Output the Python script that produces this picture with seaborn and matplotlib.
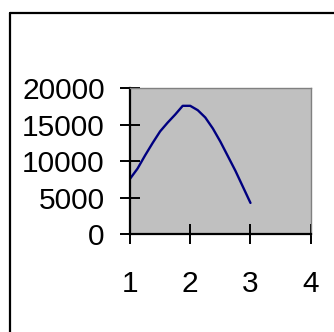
import matplotlib
matplotlib.use("Agg")
import matplotlib.pyplot as plt
import seaborn as sns
import pandas as pd
from matplotlib.lines import Line2D

x_vals = [1.0, 1.125, 1.25, 1.375, 1.5, 1.625, 1.75, 1.875, 2.0, 2.125, 2.25,
          2.375, 2.5, 2.625, 2.75, 2.875, 3.0]
y_vals = [7600, 9000, 10800, 12500, 14100, 15300, 16400, 17600, 17600, 17000,
          16000, 14500, 12700, 10700, 8700, 6500, 4300]
x_ticks = [1, 2, 3, 4]
y_ticks = [0, 5000, 10000, 15000, 20000]

sns.set_style("white")
plt.rcParams['font.family'] = ['Liberation Sans', 'DejaVu Sans']

df = pd.DataFrame({"x": x_vals, "y": y_vals})

fig = plt.figure(figsize=(3.34, 3.32), dpi=100)
ax = fig.add_axes([130/334, 1 - 234.3/332, (310.7-130)/334, (234.3-88.3)/332])
ax.set_facecolor("#C0C0C0")

sns.lineplot(data=df, x="x", y="y", ax=ax, color="#000080", linewidth=1.7)

ax.set_xlim(1, 4)
ax.set_ylim(0, 20000)
ax.set_xticks(x_ticks)
ax.set_yticks(y_ticks)
ax.set_xticklabels([str(t) for t in x_ticks])
ax.set_yticklabels([str(t) for t in y_ticks])
ax.set_xlabel("")
ax.set_ylabel("")

for s in ["left", "bottom"]:
    ax.spines[s].set_color("black")
    ax.spines[s].set_linewidth(1.6)
for s in ["right", "top"]:
    ax.spines[s].set_color("#808080")
    ax.spines[s].set_linewidth(1.0)

ax.tick_params(axis="both", direction="inout", length=14.4, width=1.4,
               color="black", labelsize=21.5, labelcolor="black")
ax.tick_params(axis="y", pad=11, left=True)
ax.tick_params(axis="x", pad=18.5, bottom=True)

# outer border (left and top visible)
fig.add_artist(Line2D([10/334, 10/334], [0, 1 - 13/332], transform=fig.transFigure,
                      color="black", linewidth=1.6))
fig.add_artist(Line2D([10/334, 1], [1 - 13/332, 1 - 13/332], transform=fig.transFigure,
                      color="black", linewidth=1.6))

fig.savefig("out.png", dpi=100, facecolor="white")
